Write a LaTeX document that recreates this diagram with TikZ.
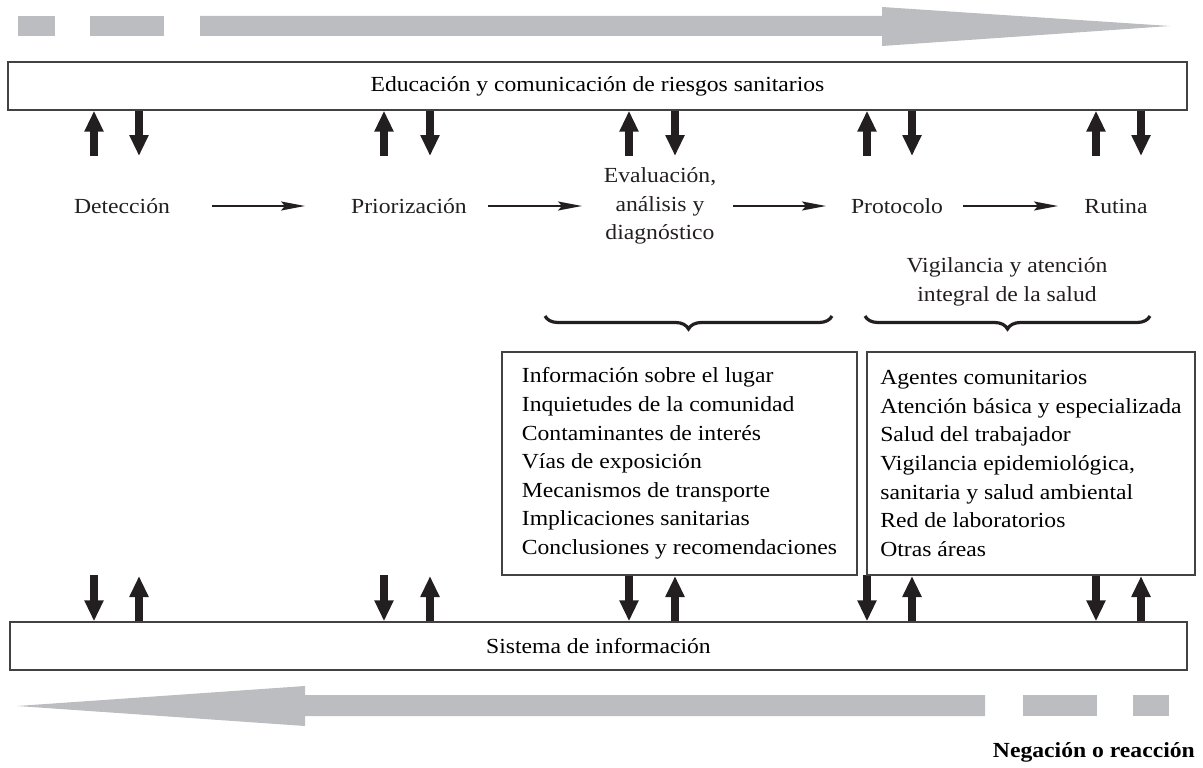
\documentclass[tikz,border=0pt]{standalone}
\usepackage{fontspec}
\setmainfont{Liberation Serif}[FakeStretch=1.1]
\usepackage{tikz}
\usetikzlibrary{positioning,arrows.meta,decorations.pathreplacing}
\definecolor{negro}{HTML}{231F20}
\definecolor{gris}{HTML}{BCBDC0}

\tikzset{
	caja/.style={draw=negro!85,line width=1.4pt,inner sep=0pt},
	etapa/.style={inner sep=0pt,align=center,text=negro},
	flujo/.style={draw=negro,line width=1.6pt,-{Stealth[length=24pt,width=9pt,inset=4pt]}},
	gruesa/.style={draw=negro,line width=8pt,-{Triangle[length=21pt,width=18pt]}},
	llave/.style={draw=negro,line width=3.2pt,decorate,decoration={brace,mirror,amplitude=13pt}}
}

\begin{document}
\begin{tikzpicture}[x=1pt,y=-1pt,font=\fontsize{21.5}{28.6}\selectfont]
			\useasboundingbox (0,0) rectangle (1203,768);
			% flechas grises
			\begin{scope}[fill=gris]
			\fill (18,16) rectangle (55,36);
			\fill (90,16) rectangle (164,36);
			\fill (200,16)--(882,16)--(882,7)--(1170,26)--(882,46)--(882,36)--(200,36)--cycle;
			\fill (985,695)--(305,695)--(305,686)--(17,706)--(305,726)--(305,716)--(985,716)--cycle;
			\fill (1023,695) rectangle (1097,716);
			\fill (1133,695) rectangle (1169,716);
			\end{scope}

			\node[caja,minimum width=1179pt,minimum height=48pt] (edu) at (597.5,86) {Educación y comunicación de riesgos sanitarios};
			\node[caja,minimum width=1177pt,minimum height=48pt] (sis) at (598.5,646) {Sistema de información};

			\node[etapa] (det) at (122,206) {Detección};
			\node[etapa] (pri) at (409,206) {Priorización};
			\node[etapa] (eva) at (660,206) {Evaluación,\\análisis y\\diagnóstico};
			\node[etapa] (pro) at (897,206) {Protocolo};
			\node[etapa] (rut) at (1116,206) {Rutina};
			\node[etapa] (vig) at (1007,282) {Vigilancia y atención\\integral de la salud};

			\foreach \a/\b/\s/\e in {det/pri/90/104,pri/eva/79/78,eva/pro/73/71,pro/rut/66/58}
			\draw[flujo,shorten <=\s pt,shorten >=\e pt] (\a.center) -- (\b.center);

			\begin{scope}
			\foreach \x/\y in {94/139,384/430,629/675,867/912,1096/1141}
			{
			\draw[gruesa] (\x,156) -- (edu.south -| \x,0);
			\draw[gruesa] (edu.south -| \y,0) -- (\y,156);
			\draw[gruesa] (sis.north -| \x,0) ++(0,-46) -- (sis.north -| \x,0);
			\draw[gruesa] (sis.north -| \y,0) -- (\y,576);
			}
			\end{scope}

			\draw[llave] (545,316) -- (832,316);
			\draw[llave] (865,316) -- (1150,316);

			\node[caja,minimum width=355pt,minimum height=223pt,align=left] (lug) at (679.5,463.5) {Información sobre el lugar\\Inquietudes de la comunidad\\Contaminantes de interés\\Vías de exposición\\Mecanismos de transporte\\Implicaciones sanitarias\\Conclusiones y recomendaciones};
			\node[caja,minimum width=328pt,minimum height=223pt,align=left] (aten) at (1031,463.5) {Agentes comunitarios\\Atención básica y especializada\\Salud del trabajador\\Vigilancia epidemiológica,\\sanitaria y salud ambiental\\Red de laboratorios\\Otras áreas};

			\node[anchor=east,inner sep=0pt,font=\fontsize{21.5}{24}\selectfont\bfseries] (neg) at (1195,752) {Negación o reacción};
\end{tikzpicture}
\end{document}
